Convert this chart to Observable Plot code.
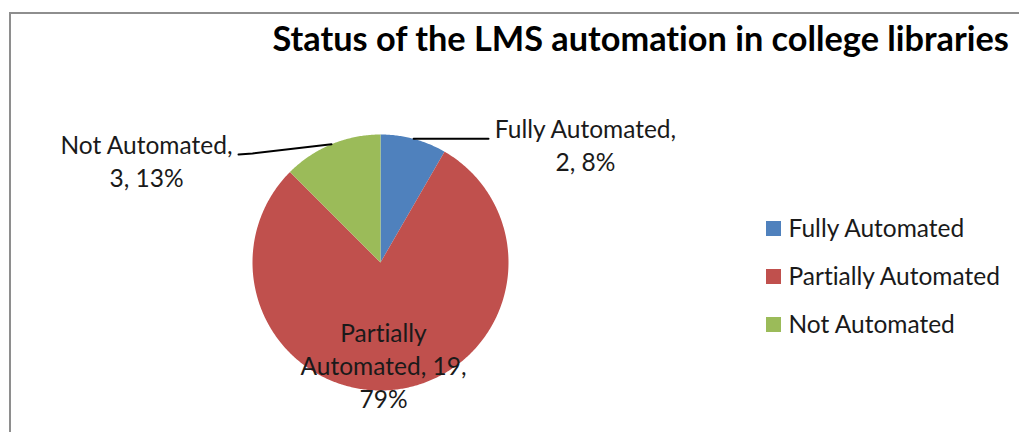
<!DOCTYPE html>
<html><head><meta charset="utf-8">
<script src="https://cdn.jsdelivr.net/npm/d3@7"></script>
<script src="https://cdn.jsdelivr.net/npm/@observablehq/plot@0.6"></script>
<style>
html,body{margin:0;padding:0;background:#fff;overflow:hidden;}
#wrap{position:relative;width:1019px;height:432px;overflow:hidden;}
#frame{position:absolute;left:9px;top:12px;width:2000px;height:2000px;border-left:2px solid #8e8e8e;border-top:2px solid #8e8e8e;pointer-events:none;}
svg{display:block;}
svg text{font-variant-ligatures:none;font-feature-settings:"liga" 0, "clig" 0;}
</style></head><body><div id="wrap"><div id="chart"></div><div id="frame"></div></div>
<script>
// ---- data ----
const title = "Status of the LMS automation in college libraries";
const categories = ["Fully Automated", "Partially Automated", "Not Automated"];
const counts = [2, 19, 3];
const percents = [8, 79, 13];
const colors = ["#4F81BD", "#C0504D", "#9BBB59"];

// ---- layout ----
const W = 1019, H = 432;
const PIE = {cx: 380, cy: 262, r: 128};
const FONT = "Lato";
const FS = 24.5;
const LH = 33;

const rows = categories.map((c, i) => ({category: c, count: counts[i], pct: percents[i]}));
const arcs = d3.pie().sort(null).value(d => d.count)(rows);

const px = a => PIE.cx + PIE.r * Math.sin(a);
const py = a => PIE.cy - PIE.r * Math.cos(a);

// slice polygons sampled from the pie angles
const slicePts = arcs.map(a => {
  const n = Math.max(2, Math.ceil((a.endAngle - a.startAngle) / 0.01));
  const pts = [{x: PIE.cx, y: PIE.cy, category: a.data.category}];
  for (let k = 0; k <= n; k++) {
    const t = a.startAngle + (a.endAngle - a.startAngle) * k / n;
    pts.push({x: px(t), y: py(t), category: a.data.category});
  }
  return pts;
});

// label layout per slice (center of text block, line breaks)
const labelLayout = {
  "Fully Automated": {x: 585, y: 130, lines: d => [`${d.category},`, `${d.count}, ${d.pct}%`], leader: (m) => [[px(m), py(m)], [488, py(m)]]},
  "Not Automated": {x: 146, y: 146, lines: d => [`${d.category},`, `${d.count}, ${d.pct}%`], leader: (m) => [[px(m), py(m)], [252, 153], [238, 154]]},
  "Partially Automated": {x: 383, y: 334, lines: d => [...d.category.split(" ").slice(0,1), `${d.category.split(" ")[1]}, ${d.count},`, `${d.pct}%`], leader: null}
};

const labelRows = [];
const leaderRows = [];
arcs.forEach(a => {
  const L = labelLayout[a.data.category];
  L.lines(a.data).forEach((t, i) => labelRows.push({x: L.x, y: L.y + i * LH, text: t}));
  if (L.leader) {
    const m = (a.startAngle + a.endAngle) / 2;
    L.leader(m).forEach(([x, y]) => leaderRows.push({x, y, category: a.data.category}));
  }
});

const legendRows = categories.map((c, i) => ({category: c, y: 228.5 + i * 48}));

const marks = [
  ...slicePts.map((pts, i) => Plot.line(pts, {x: "x", y: "y", fill: colors[i], stroke: "none", curve: "linear-closed"})),
  Plot.line(leaderRows, {x: "x", y: "y", z: "category", stroke: "#000", strokeWidth: 2}),
  Plot.text(labelRows, {x: "x", y: "y", text: "text", fontSize: FS, fontFamily: FONT, fill: "#1a1a1a", textAnchor: "middle", lineAnchor: "middle"}),
  Plot.rect(legendRows, {x1: () => 766, x2: () => 781, y1: d => d.y - 7.5, y2: d => d.y + 7.5, fill: "category"}),
  Plot.text(legendRows, {x: () => 788, y: "y", text: "category", fontSize: FS, fontFamily: FONT, fill: "#1a1a1a", textAnchor: "start", lineAnchor: "middle"}),
  Plot.text([title], {x: () => 272, y: () => 40, text: d => d, fontSize: 34.3, fontWeight: "bold", fontFamily: FONT, fill: "#000", textAnchor: "start", lineAnchor: "middle"})
];

const chart = Plot.plot({
  width: W, height: H,
  margin: 0,
  x: {type: "linear", domain: [0, W], range: [0, W], axis: null},
  y: {type: "linear", domain: [0, H], range: [0, H], axis: null},
  color: {domain: categories, range: colors},
  style: {fontFamily: FONT, background: "#fff", overflow: "hidden"},
  marks
});
document.getElementById("chart").append(chart);
</script>
</body></html>
